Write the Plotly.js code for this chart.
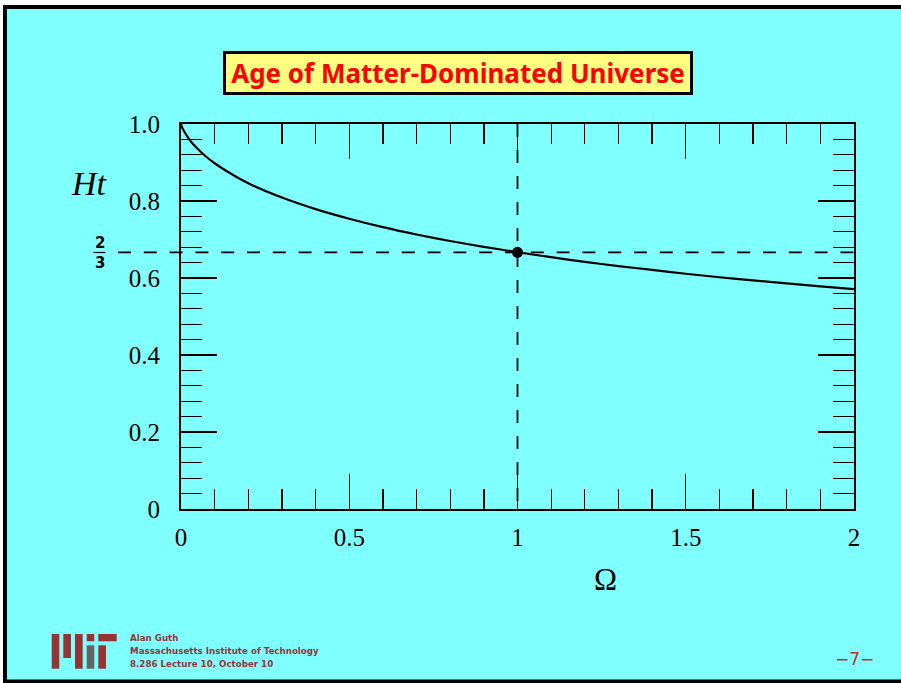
<!DOCTYPE html>
<html>
<head>
<meta charset="utf-8">
<script src="https://cdn.plot.ly/plotly-3.0.1.min.js"></script>
<style>
  html, body { margin: 0; padding: 0; background: #ffffff; }
  #chart { width: 901px; height: 683px; }
</style>
</head>
<body>
<div id="chart"></div>
<script>
// ---- data ----
const omega = [0, 0.001, 0.0025, 0.005, 0.01, 0.02, 0.03, 0.05, 0.075, 0.1, 0.15, 0.2, 0.3, 0.4, 0.5, 0.6, 0.7, 0.8, 0.9, 1.0, 1.1, 1.2, 1.3, 1.4, 1.5, 1.6, 1.7, 1.8, 1.9, 2.0];
const ageHt = [1.000, 0.997, 0.993, 0.988, 0.980, 0.966, 0.954, 0.935, 0.915, 0.898, 0.870, 0.846, 0.809, 0.779, 0.754, 0.732, 0.713, 0.696, 0.681, 0.667, 0.654, 0.642, 0.631, 0.621, 0.611, 0.602, 0.594, 0.586, 0.578, 0.571];
const flatOmega = [1];
const flatHt = [2 / 3];
const xTickVals = [0, 0.5, 1, 1.5, 2];
const xTickText = ['0', '0.5', '1', '1.5', '2'];
const yTickVals = [0, 0.2, 0.4, 0.6, 0.8, 1.0];
const yTickText = ['0', '0.2', '0.4', '0.6', '0.8', '1.0'];
const titleText = 'Age of Matter-Dominated Universe';
const footerLines = ['Alan Guth', 'Massachusetts Institute of Technology', '8.286 Lecture 10, October 10'];
const pageLabel = '\u22127\u2212';

// ---- layout helpers (pixel -> paper) ----
const L = 181, R = 47, T = 124, B = 174, W = 901, H = 683;
const pw = W - L - R, ph = H - T - B;
const px = v => (v - L) / pw;
const py = v => (H - B - v) / ph;

const CYAN = '#80ffff';
const MITRED = '#993333';

const traces = [
  {
    x: omega, y: ageHt, type: 'scatter', mode: 'lines',
    line: { color: '#000000', width: 2.2, shape: 'spline', smoothing: 0.6 },
    hoverinfo: 'skip', showlegend: false
  },
  {
    x: [flatOmega[0], flatOmega[0]], y: [1, 0], type: 'scatter', mode: 'lines',
    line: { color: '#000000', width: 1.8, dash: '13px,13px' },
    hoverinfo: 'skip', showlegend: false
  },
  {
    x: flatOmega, y: flatHt, type: 'scatter', mode: 'markers',
    marker: { color: '#000000', size: 11 }, cliponaxis: false,
    hoverinfo: 'skip', showlegend: false
  }
];

const serif = 'Liberation Serif, Times New Roman, serif';

const axisCommon = {
  showgrid: false, zeroline: false,
  showline: true, linecolor: '#000000', linewidth: 2,
  mirror: 'ticks', ticks: 'inside', tickcolor: '#000000', tickwidth: 1.3,
  tickfont: { family: serif, size: 25, color: '#000000' },
  tickmode: 'array', fixedrange: true
};

const layout = {
  width: W, height: H,
  margin: { l: L, r: R, t: T, b: B, pad: 0 },
  paper_bgcolor: '#ffffff',
  plot_bgcolor: CYAN,
  showlegend: false,
  xaxis: Object.assign({}, axisCommon, {
    range: [0, 2], tickvals: xTickVals, ticktext: xTickText,
    ticklen: 35, ticklabelstandoff: 5,
    minor: { dtick: 0.1, tick0: 0, ticklen: 20, tickwidth: 1.3, tickcolor: '#000000', ticks: 'inside' }
  }),
  yaxis: Object.assign({}, axisCommon, {
    range: [0, 1], tickvals: yTickVals, ticktext: yTickText,
    ticklen: 36, ticklabelstandoff: 14,
    minor: { dtick: 0.04, tick0: 0, ticklen: 21, tickwidth: 1.3, tickcolor: '#000000', ticks: 'inside' }
  }),
  shapes: [
    // page frame
    { type: 'rect', xref: 'paper', yref: 'paper', layer: 'below',
      x0: px(5), x1: px(915), y0: py(7), y1: py(681.5),
      line: { color: '#000000', width: 4 }, fillcolor: CYAN },
    // horizontal dashed line at 2/3
    { type: 'line', xref: 'paper', yref: 'y', layer: 'above',
      x0: px(118), x1: 1, y0: flatHt[0], y1: flatHt[0],
      line: { color: '#000000', width: 1.8, dash: '13px,12.8px' } },
    // fraction bar for 2/3 label
    { type: 'line', xref: 'paper', yref: 'paper',
      x0: px(93.5), x1: px(105.5), y0: py(252.5), y1: py(252.5),
      line: { color: '#000000', width: 1.2 } },
    // MIT logo
    { type: 'rect', xref: 'paper', yref: 'paper', x0: px(51.7), x1: px(59.3), y0: py(634), y1: py(668.7), line: { width: 0 }, fillcolor: MITRED },
    { type: 'rect', xref: 'paper', yref: 'paper', x0: px(63.3), x1: px(71), y0: py(634), y1: py(658), line: { width: 0 }, fillcolor: MITRED },
    { type: 'rect', xref: 'paper', yref: 'paper', x0: px(75), x1: px(82.7), y0: py(634), y1: py(668.7), line: { width: 0 }, fillcolor: MITRED },
    { type: 'rect', xref: 'paper', yref: 'paper', x0: px(86.7), x1: px(94.3), y0: py(634), y1: py(641.3), line: { width: 0 }, fillcolor: MITRED },
    { type: 'rect', xref: 'paper', yref: 'paper', x0: px(86.7), x1: px(94.3), y0: py(645.3), y1: py(668.7), line: { width: 0 }, fillcolor: '#666666' },
    { type: 'rect', xref: 'paper', yref: 'paper', x0: px(98.3), x1: px(116.7), y0: py(634), y1: py(641.3), line: { width: 0 }, fillcolor: MITRED },
    { type: 'rect', xref: 'paper', yref: 'paper', x0: px(98.3), x1: px(106), y0: py(645.3), y1: py(668.7), line: { width: 0 }, fillcolor: MITRED }
  ],
  annotations: [
    { text: titleText, xref: 'paper', yref: 'paper', x: px(458), y: py(73.5),
      xanchor: 'center', yanchor: 'middle', showarrow: false,
      font: { family: 'Noto Sans, DejaVu Sans, sans-serif', size: 26, color: '#ff0000', weight: 'bold' },
      bgcolor: '#ffff80', bordercolor: '#000000', borderwidth: 3, borderpad: 1,
      width: 462, height: 36 },
    { text: '<i>Ht</i>', xref: 'paper', yref: 'paper', x: px(89), y: py(183),
      xanchor: 'center', yanchor: 'middle', showarrow: false,
      font: { family: serif, size: 34, color: '#000000' } },
    { text: '\u03A9', xref: 'paper', yref: 'paper', x: px(605), y: py(579),
      xanchor: 'center', yanchor: 'middle', showarrow: false,
      font: { family: serif, size: 31, color: '#000000' } },
    { text: '<b>2</b>', xref: 'paper', yref: 'paper', x: px(99.5), y: py(243),
      xanchor: 'center', yanchor: 'middle', showarrow: false,
      font: { family: 'DejaVu Sans, sans-serif', size: 15, color: '#000000' } },
    { text: '<b>3</b>', xref: 'paper', yref: 'paper', x: px(99.5), y: py(263),
      xanchor: 'center', yanchor: 'middle', showarrow: false,
      font: { family: 'DejaVu Sans, sans-serif', size: 15, color: '#000000' } },
    { text: '<b>' + footerLines[0] + '</b>', xref: 'paper', yref: 'paper', x: px(128), y: py(638),
      xanchor: 'left', yanchor: 'middle', showarrow: false,
      font: { family: 'DejaVu Sans, sans-serif', size: 8.7, color: MITRED } },
    { text: '<b>' + footerLines[1] + '</b>', xref: 'paper', yref: 'paper', x: px(128), y: py(650.7),
      xanchor: 'left', yanchor: 'middle', showarrow: false,
      font: { family: 'DejaVu Sans, sans-serif', size: 8.7, color: MITRED } },
    { text: '<b>' + footerLines[2] + '</b>', xref: 'paper', yref: 'paper', x: px(128), y: py(663.7),
      xanchor: 'left', yanchor: 'middle', showarrow: false,
      font: { family: 'DejaVu Sans, sans-serif', size: 8.7, color: MITRED } },
    { text: pageLabel, xref: 'paper', yref: 'paper', x: px(854), y: py(659),
      xanchor: 'center', yanchor: 'middle', showarrow: false,
      font: { family: 'DejaVu Sans, sans-serif', size: 17, color: '#bb3333' } }
  ]
};

Plotly.newPlot('chart', traces, layout, { staticPlot: true, displayModeBar: false });
</script>
</body>
</html>
